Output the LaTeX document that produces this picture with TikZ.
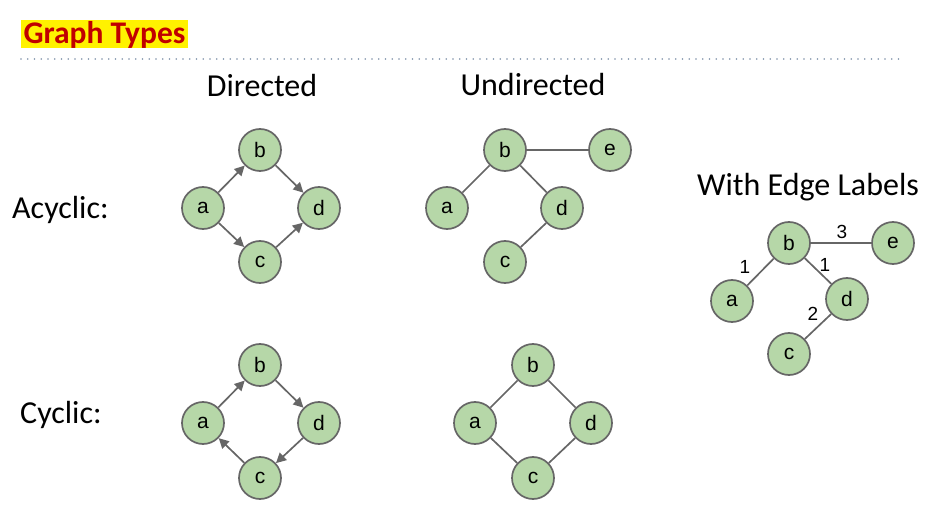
\documentclass[tikz,border=0pt]{standalone}
\usepackage{fontspec}
\setmainfont{Carlito}
\newfontfamily\nodefont{Liberation Sans}
\usetikzlibrary{arrows.meta}
\definecolor{nodefill}{HTML}{B6D7A8}
\definecolor{edgegrey}{HTML}{666666}
\definecolor{titlered}{HTML}{C00000}
\definecolor{dotblue}{HTML}{7D90A8}
\begin{document}
\begin{tikzpicture}[x=1pt,y=-1pt,
  vert/.style={circle,draw=edgegrey,fill=nodefill,line width=1.7pt,minimum size=42pt,inner sep=0pt,font=\nodefont\fontsize{21}{24}\selectfont},
  edge/.style={draw=edgegrey,line width=1.7pt},
  arc/.style={edge,-{Triangle[length=10pt,width=10pt]}},
  head/.style={font=\fontsize{32}{38}\selectfont,inner sep=0pt},
  elabel/.style={font=\nodefont\fontsize{19}{22}\selectfont,inner sep=0pt}]
\useasboundingbox (0,0) rectangle (948,529);
% title
\node[fill=yellow,text=titlered,font=\bfseries\fontsize{31.5}{36}\selectfont,inner sep=0pt,minimum width=167pt,minimum height=28pt] (title) at (104.5,34.5) {Graph Types};
\coordinate (dl) at (21,59);
\coordinate (dr) at (904,59);
\draw[dotblue,line width=1.6pt,line cap=round,dash pattern=on 0pt off 6.75pt] (dl) -- (dr);
% headings
\node[head] (hdir) at (262,86) {Directed};
\node[head] (hund) at (533,85) {Undirected};
\node[head] (hlab) at (808,187) {With Edge Labels};
\node[head,anchor=west] (hacy) at (12,210) {Acyclic:};
\node[head,anchor=west] (hcyc) at (20,415) {Cyclic:};
% directed acyclic
\node[vert] (da) at (203,208) {a};
\node[vert] (db) at (260,150) {b};
\node[vert] (dc) at (260,262) {c};
\node[vert] (dd) at (319,208) {d};
\draw[arc] (da) -- (db);
\draw[arc] (da) -- (dc);
\draw[arc] (db) -- (dd);
\draw[arc] (dc) -- (dd);
% undirected acyclic
\node[vert] (ua) at (447,208) {a};
\node[vert] (ub) at (505,150) {b};
\node[vert] (uc) at (505,262) {c};
\node[vert] (ud) at (562,208) {d};
\node[vert] (ue) at (610,150) {e};
\draw[edge] (ub) -- (ue);
\draw[edge] (ub) -- (ua);
\draw[edge] (ub) -- (ud);
\draw[edge] (ud) -- (uc);
% directed cyclic
\node[vert] (ca) at (203,423) {a};
\node[vert] (cb) at (260,365) {b};
\node[vert] (cc) at (260,478) {c};
\node[vert] (cd) at (319,423) {d};
\draw[arc] (ca) -- (cb);
\draw[arc] (cb) -- (cd);
\draw[arc] (cd) -- (cc);
\draw[arc] (cc) -- (ca);
% undirected cyclic
\node[vert] (ka) at (475,423) {a};
\node[vert] (kb) at (533,365) {b};
\node[vert] (kc) at (533,478) {c};
\node[vert] (kd) at (591,423) {d};
\draw[edge] (ka) -- (kb);
\draw[edge] (kb) -- (kd);
\draw[edge] (kd) -- (kc);
\draw[edge] (kc) -- (ka);
% with edge labels
\node[vert] (la) at (732,301) {a};
\node[vert] (lb) at (789,243) {b};
\node[vert] (lc) at (789,354) {c};
\node[vert] (ld) at (847,299) {d};
\node[vert] (le) at (893,243) {e};
\draw[edge] (lb) -- (le);
\draw[edge] (lb) -- (la);
\draw[edge] (lb) -- (ld);
\draw[edge] (ld) -- (lc);
\node[elabel] (l3) at (842,232) {3};
\node[elabel] (l1a) at (745,267) {1};
\node[elabel] (l1b) at (825,265) {1};
\node[elabel] (l2) at (813,314) {2};
\end{tikzpicture}
\end{document}
